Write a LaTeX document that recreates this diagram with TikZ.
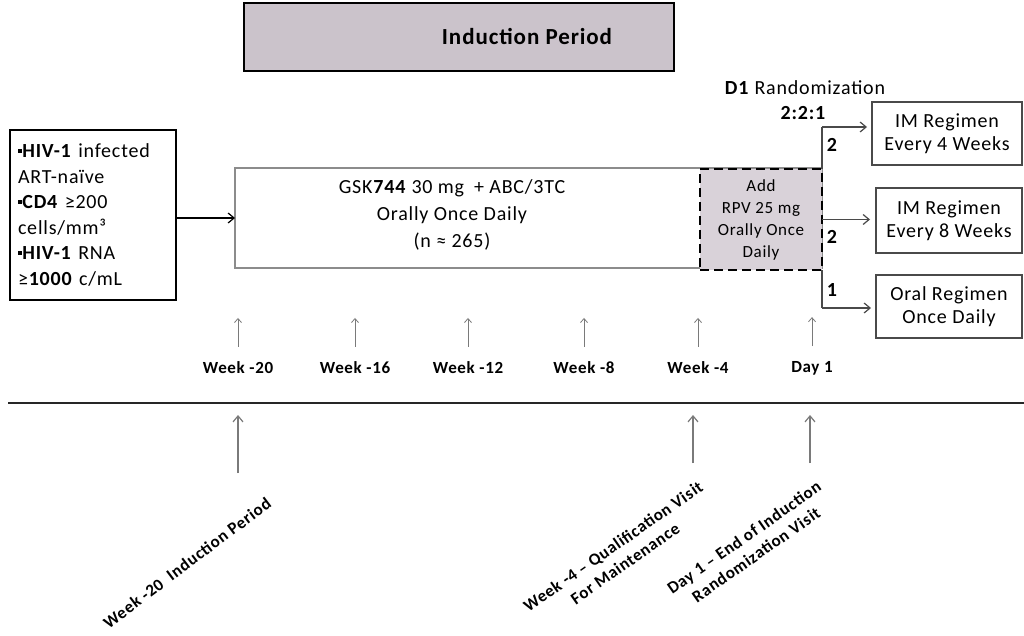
\documentclass[tikz,border=0pt]{standalone}
\usepackage{fontspec}
\setmainfont{Carlito}[LetterSpace=4]
\usetikzlibrary{arrows.meta}
\definecolor{mauve}{HTML}{CBC3CB}
\definecolor{mauvelt}{HTML}{D9D2D9}
\definecolor{framegray}{HTML}{8C8C8C}
\definecolor{dgray}{HTML}{4A4A4A}
\definecolor{tgray}{HTML}{7A7A7A}
\newcommand\myfs[2]{\fontsize{#1}{#2}\selectfont}
\newcommand\bul{\rule[0.5ex]{0.22em}{0.22em}}
\begin{document}
\begin{tikzpicture}[x=1pt,y=-1pt,
  every node/.style={inner sep=0pt, outer sep=0pt},
  regbox/.style={draw=dgray, line width=1.5pt, minimum width=146pt, minimum height=63pt, align=center, font=\myfs{20}{23}},
  branch/.style={draw=dgray, line width=1.8pt},
  barb/.style={-{Straight Barb[length=6pt,width=10pt,line width=1.2pt]}},
  tickarr/.style={draw=tgray, line width=0.8pt, -{Straight Barb[length=4pt,width=7pt,line width=0.8pt]}},
  bigtick/.style={draw=tgray, line width=1.2pt, -{Straight Barb[length=6pt,width=10pt,line width=1.2pt]}},
  wk/.style={font=\myfs{17}{20}\bfseries},
  rotlab/.style={align=center, font=\myfs{17}{21}\bfseries}
]
\useasboundingbox (0,0) rectangle (1024,636);
\fill[white] (0,0) rectangle (1024,636);

% Induction period header
\node[draw=black, line width=2.5pt, fill=mauve, minimum width=430pt, minimum height=68pt] (ind) at (459,37) {};
\node[font=\myfs{23}{26}\bfseries] (indtext) at (527,37) {Induction Period};

% Eligibility box
\node[draw=black, line width=1.5pt, minimum width=166pt, minimum height=170pt, text width=150pt, align=left, font=\myfs{20}{25.5}] (elig) at (93,215)
 {\bul\textbf{HIV-1} infected\\ART-naïve\\\bul\textbf{CD4} ≥200\\cells/mm³\\\bul\textbf{HIV-1} RNA\\≥\textbf{1000} c/mL};

% Main induction box
\node[draw=framegray, line width=2pt, minimum width=587pt, minimum height=100pt] (main) at (528.5,218) {};
\node[align=center, font=\myfs{20}{27}] (maintext) at (452,215) {GSK\textbf{744} 30 mg\enspace+ ABC/3TC\\Orally Once Daily\\(n ≈ 265)};

\draw[line width=1.5pt, barb] (elig.east |- main.west) -- (main.west);

% branch
\coordinate (b1) at (822,127);
\coordinate (b3) at (822,308);

% Dashed RPV box
\node[draw=black, line width=2.5pt, dash pattern=on 9pt off 5pt, fill=mauvelt, minimum width=122pt, minimum height=101pt, align=center, font=\myfs{17}{22}] (rpv) at (761,219.5) {Add\\RPV 25 mg\\Orally Once\\Daily};

\node[font=\myfs{20}{23}] (rand) at (805,88) {\textbf{D1} Randomization};
\node[font=\myfs{20}{23}\bfseries] (ratio) at (803,113) {2:2:1};

% regimen boxes
\node[regbox, minimum width=150pt] (box1) at (947,133.5) {IM Regimen\\Every 4 Weeks};
\node[regbox, minimum height=65pt] (box2) at (949,220.5) {IM Regimen\\Every 8 Weeks};
\node[regbox] (box3) at (949,306.5) {Oral Regimen\\Once Daily};

\draw[branch] (b1) -- (rpv.north east);
\draw[branch] (rpv.south east) -- (b3);
\draw[branch, barb, shorten >=5pt] (b1) -- (b1 -| box1.west);
\draw[branch, barb, shorten >=6pt] (rpv.east) -- (rpv.east -| box2.west);
\draw[branch, barb, shorten >=5pt] (b3) -- (b3 -| box3.west);

\node[font=\myfs{20}{23}\bfseries] (n1) at (832,145) {2};
\node[font=\myfs{20}{23}\bfseries] (n2) at (832,237) {2};
\node[font=\myfs{20}{23}\bfseries] (n3) at (832,290) {1};

% timeline
\node[wk] (w20) at (238,368) {Week -20};
\node[wk] (w16) at (355,368) {Week -16};
\node[wk] (w12) at (468,368) {Week -12};
\node[wk] (w8)  at (584,368) {Week -8};
\node[wk] (w4)  at (698,368) {Week -4};
\node[wk] (d1)  at (812,368) {Day 1};
\foreach \n in {w20,w16,w12,w8,w4,d1}{
  \draw[tickarr, shorten <=15pt] (\n.north) -- ([yshift=44pt]\n.north);
}

% horizontal rule
\coordinate (hl1) at (8,403);
\coordinate (hl2) at (1024,403);
\draw[line width=2.5pt, draw=black!85] (hl1) -- (hl2);

% bottom arrows
\coordinate (a1s) at (238,473); \coordinate (a1e) at (238,415);
\coordinate (a2s) at (693,463); \coordinate (a2e) at (693,415);
\coordinate (a3s) at (810,463); \coordinate (a3e) at (810,415);
\draw[bigtick] (a1s) -- (a1e);
\draw[bigtick] (a2s) -- (a2e);
\draw[bigtick] (a3s) -- (a3e);

% rotated labels
\node[rotlab, rotate=37] (lab20) at (187,563) {Week -20\enspace Induction Period};
\node[rotlab, rotate=35] (lab4) at (619,555) {Week -4 – Qualification Visit\\For Maintenance};
\node[rotlab, rotate=35] (lab1) at (750,546) {Day 1 – End of Induction\\Randomization Visit};
\end{tikzpicture}
\end{document}
